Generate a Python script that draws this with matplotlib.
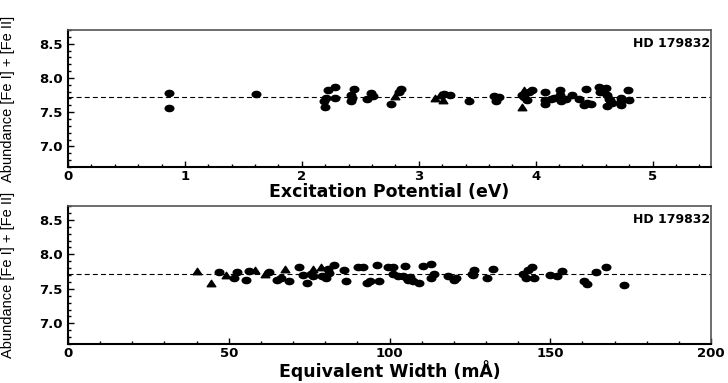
import matplotlib

matplotlib.use("Agg")
import matplotlib.pyplot as plt
from matplotlib.path import Path
from matplotlib.ticker import MultipleLocator, FormatStrFormatter
from matplotlib.transforms import Affine2D

star_name = "HD 179832"
mean_abund = 7.72

# Fe I lines (circles) and Fe II lines (triangles) vs excitation potential
ep_fe1 = [0.86, 0.86, 1.61, 2.20, 2.19, 2.21, 2.22, 2.28, 2.28, 2.42, 2.42, 2.45,
          2.43, 2.56, 2.59, 2.61, 2.76, 2.83, 2.85, 3.22, 3.27, 3.43, 3.64, 3.66,
          3.69, 3.88, 3.90, 3.93, 3.94, 3.97, 4.08, 4.08, 4.08, 4.13, 4.16, 4.21,
          4.21, 4.22, 4.26, 4.31, 4.37, 4.41, 4.44, 4.47, 4.43, 4.54, 4.55, 4.60,
          4.61, 4.63, 4.61, 4.64, 4.65, 4.73, 4.73, 4.73, 4.79, 4.80]
ab_ep_fe1 = [7.78, 7.56, 7.77, 7.58, 7.66, 7.70, 7.82, 7.87, 7.70, 7.75, 7.66, 7.84,
             7.71, 7.69, 7.78, 7.73, 7.62, 7.80, 7.84, 7.76, 7.75, 7.66, 7.74, 7.66,
             7.72, 7.75, 7.72, 7.68, 7.80, 7.82, 7.80, 7.68, 7.62, 7.69, 7.70, 7.83,
             7.75, 7.66, 7.69, 7.75, 7.69, 7.61, 7.63, 7.62, 7.84, 7.87, 7.79, 7.85,
             7.75, 7.69, 7.59, 7.68, 7.63, 7.70, 7.66, 7.61, 7.83, 7.68]
ep_fe2 = [2.80, 3.14, 3.18, 3.21, 3.88, 3.90]
ab_ep_fe2 = [7.73, 7.71, 7.75, 7.68, 7.58, 7.83]

# same vs equivalent width
ew_fe1 = [47.1, 51.6, 52.5, 55.4, 56.4, 62.6, 65.1, 66.2, 68.6, 71.8, 73.2, 74.4,
          75.5, 76.3, 78.9, 80.2, 80.8, 81.3, 82.8, 85.8, 86.5, 90.3, 91.9, 92.9,
          93.9, 96.2, 96.8, 99.6, 101.2, 101.2, 102.7, 104.8, 104.3, 105.3, 106.4,
          105.8, 107.4, 109.3, 110.5, 112.8, 112.8, 113.8, 118.3, 120.7, 120.2,
          125.6, 126.3, 125.9, 130.2, 132.1, 141.6, 142.5, 143.2, 144.2, 144.9,
          149.9, 152.2, 153.6, 160.5, 161.3, 164.2, 167.3, 173.0]
ab_ew_fe1 = [7.74, 7.66, 7.75, 7.63, 7.76, 7.75, 7.63, 7.65, 7.62, 7.82, 7.70, 7.58,
             7.72, 7.68, 7.68, 7.66, 7.78, 7.73, 7.85, 7.77, 7.62, 7.82, 7.81, 7.59,
             7.61, 7.85, 7.62, 7.81, 7.81, 7.71, 7.68, 7.83, 7.68, 7.65, 7.67,
             7.63, 7.62, 7.59, 7.83, 7.86, 7.66, 7.72, 7.68, 7.65, 7.63,
             7.72, 7.77, 7.70, 7.65, 7.78, 7.72, 7.65, 7.77, 7.81, 7.66,
             7.70, 7.69, 7.76, 7.61, 7.57, 7.75, 7.81, 7.55]
ew_fe2 = [40.0, 44.4, 49.1, 58.2, 61.3, 67.5, 76.1, 78.6]
ab_ew_fe2 = [7.76, 7.58, 7.70, 7.77, 7.72, 7.79, 7.78, 7.81]

# squashed markers (the original looks horizontally stretched)
circle_m = Path.unit_circle().transformed(Affine2D().scale(1.0, 0.72))
tri_m = Path([(-1, -0.75), (1, -0.75), (0, 0.75), (-1, -0.75)],
             [Path.MOVETO, Path.LINETO, Path.LINETO, Path.CLOSEPOLY])

TICK_FONT = {"family": "DejaVu Sans", "weight": "bold", "size": 9.5}
LABEL_FONT = {"family": "DejaVu Sans", "weight": "bold", "size": 12.5}
YLABEL_FONT = {"family": "Liberation Sans", "size": 10.5}


def _style_axis(ax, xmax, xmajor, xminor, xlabel):
    ax.set_xlim(0, xmax)
    ax.set_ylim(6.7, 8.7)
    ax.axhline(mean_abund, color="black", lw=0.8, dashes=(4.5, 2.8))
    ax.xaxis.set_major_locator(MultipleLocator(xmajor))
    ax.xaxis.set_minor_locator(MultipleLocator(xminor))
    ax.yaxis.set_major_locator(MultipleLocator(0.5))
    ax.yaxis.set_minor_locator(MultipleLocator(0.1))
    ax.yaxis.set_major_formatter(FormatStrFormatter("%.1f"))
    ax.tick_params(which="both", direction="in", top=False, right=False, width=1)
    ax.tick_params(which="major", length=4.5)
    ax.tick_params(which="minor", length=2.5)
    ax.tick_params(axis="x", pad=2.5)
    ax.tick_params(axis="y", pad=4)
    for lbl in ax.get_xticklabels() + ax.get_yticklabels():
        lbl.set_fontproperties(TICK_FONT)
    for side in ("left", "bottom"):
        ax.spines[side].set_linewidth(1.5)
    for side in ("top", "right"):
        ax.spines[side].set_linewidth(1.2)
        ax.spines[side].set_color("#555555")
    ax.set_xlabel(xlabel, fontdict=LABEL_FONT, labelpad=0)
    ax.set_ylabel("Abundance [Fe I] + [Fe II]", fontdict=YLABEL_FONT)
    ax.yaxis.set_label_coords(-0.083, 0.5)
    ax.text(0.998, 0.9, star_name, transform=ax.transAxes, ha="right", va="center",
            fontdict={"family": "DejaVu Sans", "weight": "bold", "size": 9})


fig = plt.figure(figsize=(7.28, 3.83), dpi=100)
ax1 = fig.add_axes([0.0934, 0.564, 0.8833, 0.3577])
ax2 = fig.add_axes([0.0934, 0.1018, 0.8833, 0.3603])

ax1.plot(ep_fe1, ab_ep_fe1, ls="none", marker=circle_m, ms=6.2, color="black")
ax1.plot(ep_fe2, ab_ep_fe2, ls="none", marker=tri_m, ms=6.2, color="black")
_style_axis(ax1, 5.5, 1, 0.2, "Excitation Potential (eV)")

ax2.plot(ew_fe1, ab_ew_fe1, ls="none", marker=circle_m, ms=6.2, color="black")
ax2.plot(ew_fe2, ab_ew_fe2, ls="none", marker=tri_m, ms=6.2, color="black")
_style_axis(ax2, 200, 50, 10, "Equivalent Width (mÅ)")

fig.savefig("out.png", dpi=100)
plt.close(fig)
